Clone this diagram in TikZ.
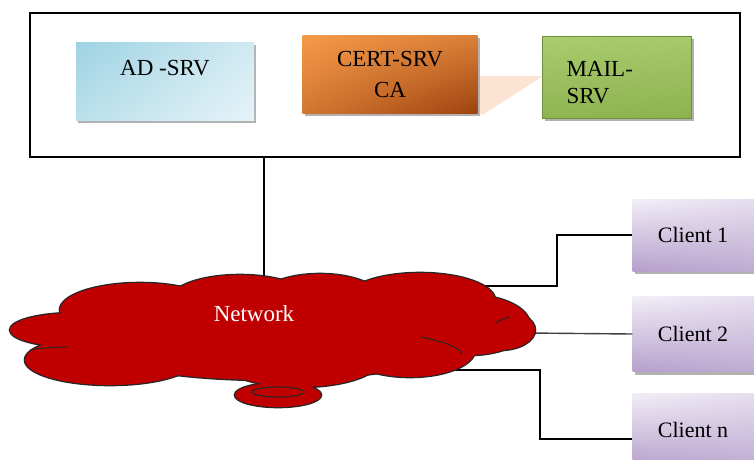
\documentclass[tikz,border=0pt]{standalone}
\usepackage{fontspec}
\setmainfont{Liberation Serif}
\usetikzlibrary{shadows,shadings}
\definecolor{adA}{HTML}{9ED3E3}
\definecolor{adB}{HTML}{E6F3F8}
\definecolor{certA}{HTML}{F59A48}
\definecolor{certB}{HTML}{9E4310}
\definecolor{mailA}{HTML}{A9CC6E}
\definecolor{mailB}{HTML}{8DB24F}
\definecolor{cliA}{HTML}{F2EEF7}
\definecolor{cliB}{HTML}{B5A0CC}
\definecolor{peach}{HTML}{FCE3D2}
\definecolor{netred}{HTML}{C00000}
\begin{document}
\begin{tikzpicture}[x=1pt,y=-1pt,
  bigtext/.style={font=\fontsize{23}{27}\selectfont},
  srvbox/.style={shade, inner sep=0pt, bigtext,
    general shadow={fill=black!30, shadow xshift=2pt, shadow yshift=-3pt}},
  clibox/.style={srvbox, upper left=cliA, upper right=cliA!80!cliB, lower left=cliB, lower right=cliB!85!cliA,
    minimum width=121pt, font=\fontsize{22}{26}\selectfont},
  link/.style={line width=1.4pt, black},
  cloudline/.style={line width=2.6pt, black!85},
  cloudfill/.style={fill=netred, draw=none}]
\useasboundingbox (0,0) rectangle (754,459);
\clip (0,0) rectangle (754,459);
\fill[white] (0,0) rectangle (754,459);

% system frame
\node[draw, line width=1.8pt, minimum width=710pt, minimum height=144pt, inner sep=0pt] (sys) at (385,85) {};

% peach connector shape
\fill[peach] (478,76) -- (543,76) -- (484,114) -- (478,114) -- cycle;

% servers
\node[srvbox, upper left=adA, upper right=adB!70!adA, lower left=adA!60!adB, lower right=adB,
  minimum width=178pt, minimum height=78pt] (ad) at (165,81) {};
\node at ([yshift=-26pt]ad.north) [bigtext] {AD -SRV};

\node[srvbox, upper left=certA, upper right=certA!70!certB, lower left=certA!60!certB, lower right=certB,
  minimum width=175pt, minimum height=78pt, align=center] (cert) at (390,74) {CERT-SRV\\[4pt]CA};

\node[srvbox, draw=mailB!80!black, upper left=mailA, upper right=mailA!90!mailB, lower left=mailB!90!mailA, lower right=mailB,
  minimum width=149pt, minimum height=82pt] (mail) at (617,77) {};
\node[anchor=west, align=left, bigtext, inner sep=0pt] at ([xshift=24pt,yshift=-6pt]mail.west) {MAIL-\\SRV};

% clients
\node[clibox, minimum height=72pt] (c1) at (693,235) {Client 1};
\node[clibox, minimum height=75pt] (c2) at (693,334) {Client 2};
\node[clibox, minimum height=74pt] (cn) at (693,430) {Client n};

% attachment points on the network cloud
\coordinate (netTop) at (264,290);
\coordinate (net1) at (470,286);
\coordinate (net2) at (528,333);
\coordinate (netn) at (452,370);
\coordinate (turn1) at (557,286);
\coordinate (turnn) at (540,370);

% connectors
\draw[link] (netTop |- sys.south) -- (netTop);
\draw[link] (net1) -- (turn1) |- (c1.west);
\draw[link, black!75] (net2) -- (c2.west);
\draw[link] (netn) -- (turnn) |- ([yshift=-9pt]cn.west);

% cloud
\def\cloudparts{75/330/65/17, 110/360/85/25, 140/310/80/27, 240/300/70/25, 320/298/60/24,
  420/300/75/27, 470/325/60/30, 500/330/35/20, 270/345/180/35, 300/360/80/27, 410/350/65/27, 278/395/43/12}
\foreach \cx/\cy/\rx/\ry in \cloudparts
  {\draw[cloudline] (\cx,\cy) ellipse [x radius=\rx, y radius=\ry];}
\foreach \cx/\cy/\rx/\ry in \cloudparts
  {\path[cloudfill] (\cx,\cy) ellipse [x radius=\rx, y radius=\ry];}
\draw[line width=1.1pt, black!85] (278,392) ellipse [x radius=26, y radius=5];
\draw[line width=1pt, black!85] (421,337) .. controls (445,342) and (458,347) .. (462,354);
\draw[line width=1pt, black!85] (496,323) .. controls (500,320) and (505,318) .. (510,317);
\draw[line width=1pt, black!85] (68,347) .. controls (55,347) and (40,348) .. (30,350);
\node[text=white, bigtext] (net) at (254,314) {Network};
\end{tikzpicture}
\end{document}
